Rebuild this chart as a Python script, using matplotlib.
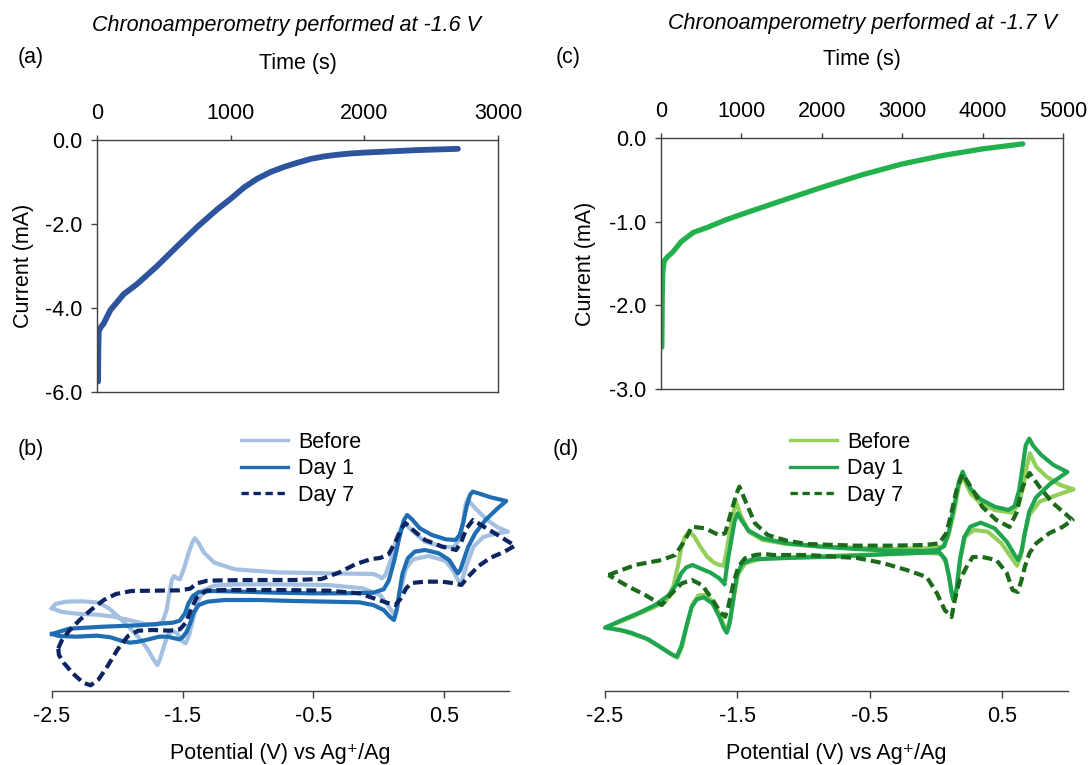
import matplotlib
matplotlib.use("Agg")
import matplotlib.pyplot as plt
from matplotlib.ticker import FormatStrFormatter
from matplotlib.lines import Line2D

plt.rcParams['font.family'] = ['Liberation Sans', 'DejaVu Sans']
plt.rcParams['axes.unicode_minus'] = False

# ---------------- data: chronoamperometry ----------------
a_time = [8, 10, 13, 30, 50, 100, 200, 300, 450, 600, 750, 900, 1000, 1100, 1200,
          1300, 1400, 1500, 1600, 1700, 1800, 1900, 2000, 2200, 2400, 2700]
a_current = [-5.75, -5.0, -4.55, -4.45, -4.37, -4.05, -3.67, -3.43, -3.00, -2.53, -2.07,
             -1.65, -1.40, -1.13, -0.92, -0.76, -0.64, -0.54, -0.45, -0.39, -0.35, -0.32,
             -0.30, -0.27, -0.24, -0.21]

c_time = [10, 15, 22, 40, 80, 150, 250, 400, 600, 800, 1100, 1500, 2000, 2500, 3000,
          3500, 4000, 4500]
c_current = [-2.5, -1.9, -1.6, -1.47, -1.42, -1.36, -1.24, -1.13, -1.06, -0.98, -0.88,
             -0.75, -0.59, -0.44, -0.31, -0.21, -0.13, -0.07]

a_xticks = [0, 1000, 2000, 3000]
a_yticks = [-6.0, -4.0, -2.0, 0.0]
c_xticks = [0, 1000, 2000, 3000, 4000, 5000]
c_yticks = [-3.0, -2.0, -1.0, 0.0]
cv_xticks = [-2.5, -1.5, -0.5, 0.5]
legend_labels = ["Before", "Day 1", "Day 7"]

# ---------------- data: cyclic voltammetry (b), potential V / current arb. ----------------
b_before_E = [-2.500, -2.421, -2.288, -2.156, -2.024, -1.892, -1.786, -1.706, -1.653, -1.622,
              -1.601, -1.582, -1.566, -1.542, -1.521, -1.489, -1.455, -1.423, -1.405, -1.376,
              -1.336, -1.257, -1.098, -0.780, -0.384, -0.040, 0.000, 0.026, 0.053, 0.093,
              0.140, 0.180, 0.204, 0.265, 0.357, 0.489, 0.574, 0.622, 0.648, 0.669,
              0.683, 0.741, 0.833, 0.913, 0.992,
              0.913, 0.807, 0.728, 0.680, 0.648, 0.632, 0.608, 0.569, 0.511, 0.384,
              0.265, 0.212, 0.172, 0.146, 0.124, 0.079, 0.013, -0.119, -0.384, -0.780,
              -1.098, -1.257, -1.336, -1.384, -1.421, -1.450, -1.476, -1.508, -1.542, -1.579,
              -1.614, -1.648, -1.675, -1.693, -1.720, -1.772, -1.852, -1.958, -2.063, -2.143,
              -2.262, -2.394, -2.474, -2.500]
b_before_I = [-0.25, -0.36, -0.42, -0.44, -0.50, -0.62, -0.72, -0.76, -0.65, -0.30,
              0.20, 0.60, 0.72, 0.65, 0.62, 0.95, 1.40, 1.75, 1.85, 1.70,
              1.42, 1.12, 0.92, 0.83, 0.80, 0.78, 0.72, 0.65, 0.75, 1.18,
              1.88, 2.22, 2.30, 2.05, 1.75, 1.60, 1.58, 1.82, 2.35, 2.90,
              3.02, 2.75, 2.40, 2.18, 2.05,
              2.00, 1.90, 1.60, 1.10, 0.70, 0.50, 0.60, 0.90, 1.18, 1.32,
              1.22, 0.95, 0.35, -0.20, -0.45, -0.20, 0.15, 0.35, 0.45, 0.47,
              0.47, 0.43, 0.30, -0.05, -0.60, -1.05, -1.30, -1.22, -1.00, -0.92,
              -1.05, -1.45, -1.80, -1.95, -1.80, -1.45, -1.05, -0.63, -0.25, -0.08,
              -0.04, -0.05, -0.12, -0.25]

b_day1_E = [-2.500, -2.368, -2.103, -1.839, -1.574, -1.521, -1.481, -1.455, -1.421, -1.376,
            -1.283, -1.045, -0.780, -0.516, -0.251, -0.040, 0.040, 0.079, 0.119, 0.159,
            0.193, 0.220, 0.257, 0.317, 0.410, 0.516, 0.590, 0.622, 0.648, 0.675,
            0.701, 0.722, 0.767, 0.860, 0.979,
            0.913, 0.820, 0.741, 0.688, 0.653, 0.627, 0.608, 0.582, 0.542, 0.463,
            0.357, 0.278, 0.225, 0.185, 0.159, 0.140, 0.119, 0.087, 0.040, -0.040,
            -0.146, -0.384, -0.648, -0.913, -1.177, -1.310, -1.376, -1.415, -1.442, -1.468,
            -1.500, -1.526, -1.561, -1.614, -1.680, -1.759, -1.839, -1.905, -1.971, -2.050,
            -2.156, -2.315, -2.447, -2.500]
b_day1_I = [-1.02, -0.86, -0.80, -0.76, -0.68, -0.62, -0.40, -0.10, 0.12, 0.24,
            0.27, 0.25, 0.22, 0.20, 0.20, 0.22, 0.32, 0.58, 1.15, 1.85,
            2.38, 2.55, 2.42, 2.15, 1.95, 1.82, 1.80, 1.95, 2.30, 2.80,
            3.15, 3.25, 3.20, 3.08, 2.97,
            2.75, 2.40, 2.00, 1.60, 1.20, 0.90, 0.80, 0.95, 1.20, 1.40,
            1.50, 1.45, 1.25, 0.80, 0.20, -0.30, -0.60, -0.50, -0.30, -0.15,
            -0.07, -0.05, -0.03, 0.00, 0.00, -0.05, -0.15, -0.38, -0.70, -0.95,
            -1.12, -1.18, -1.15, -1.10, -1.10, -1.18, -1.25, -1.28, -1.22, -1.12,
            -1.07, -1.10, -1.08, -1.02]

b_day7_E = [-2.452, -2.426, -2.368, -2.288, -2.196, -2.103, -2.011, -1.892, -1.706, -1.521,
            -1.442, -1.389, -1.310, -1.045, -0.648, -0.437, -0.304, -0.172, -0.053, 0.013,
            0.079, 0.132, 0.177, 0.206, 0.265, 0.357, 0.489, 0.595, 0.635, 0.675,
            0.725, 0.807, 0.913, 1.045,
            0.966, 0.860, 0.767, 0.688, 0.635, 0.582, 0.489, 0.357, 0.254, 0.212,
            0.172, 0.130, 0.079, 0.003, -0.146, -0.384, -0.780, -1.177, -1.317, -1.394,
            -1.437, -1.474, -1.521, -1.601, -1.733, -1.839, -1.918, -1.997, -2.077, -2.143,
            -2.204, -2.262, -2.341, -2.407, -2.447, -2.452]
b_day7_I = [-1.45, -1.22, -0.92, -0.60, -0.28, 0.00, 0.18, 0.27, 0.28, 0.29,
            0.34, 0.50, 0.58, 0.60, 0.60, 0.63, 0.82, 1.08, 1.23, 1.26,
            1.38, 1.75, 2.15, 2.31, 2.10, 1.80, 1.60, 1.50, 1.75, 2.15,
            2.40, 2.20, 1.95, 1.63,
            1.45, 1.27, 1.02, 0.70, 0.45, 0.50, 0.55, 0.55, 0.51, 0.35,
            0.05, -0.15, -0.10, 0.00, 0.20, 0.28, 0.30, 0.30, 0.28, 0.06,
            -0.30, -0.68, -0.88, -0.92, -0.90, -0.92, -1.08, -1.48, -2.00, -2.38,
            -2.56, -2.48, -2.20, -1.90, -1.65, -1.45]

# ---------------- data: cyclic voltammetry (d) ----------------
d_before_E = [-1.602, -1.636, -1.675, -1.728, -1.780, -1.827, -1.864, -1.898, -1.924, -1.950,
              -1.984, -2.042, -2.147, -2.264, -2.382, -2.492,
              -2.356, -2.199, -2.081, -2.003, -1.953, -1.916, -1.880, -1.838, -1.793, -1.741,
              -1.675, -1.623, -1.584, -1.552, -1.524, -1.492, -1.440, -1.335, -1.126, -0.602,
              -0.079, 0.039, 0.079, 0.105, 0.126, 0.139, 0.162, 0.188, 0.223, 0.288,
              0.393, 0.497, 0.576, 0.615, 0.641, 0.668, 0.707, 0.785, 0.916, 1.042,
              0.942, 0.838, 0.759, 0.712, 0.688, 0.660, 0.628, 0.576, 0.445, 0.340,
              0.267, 0.225, 0.204, 0.173, 0.136, 0.094, 0.052, -0.079, -0.340, -0.864,
              -1.126, -1.309, -1.414, -1.476, -1.510, -1.531, -1.558, -1.584, -1.602]
d_before_I = [1.03, 1.05, 1.12, 1.30, 1.60, 1.92, 2.05, 1.88, 1.55, 1.00,
              0.40, -0.05, -0.25, -0.45, -0.65, -0.82,
              -0.94, -1.14, -1.40, -1.62, -1.73, -1.38, -0.72, -0.12, 0.14, 0.15,
              -0.08, -0.55, -0.95, -0.55, 0.15, 0.80, 1.10, 1.22, 1.28, 1.35,
              1.42, 1.38, 1.10, 0.60, 0.10, 0.00, 0.40, 1.30, 1.90, 2.10,
              2.05, 1.70, 1.25, 1.03, 1.30, 1.90, 2.55, 2.95, 3.15, 3.32,
              3.45, 3.70, 4.00, 4.40, 4.00, 3.38, 2.88, 2.62, 2.70, 2.90,
              3.18, 3.52, 3.75, 3.38, 2.60, 1.90, 1.60, 1.55, 1.53, 1.60,
              1.68, 1.80, 2.05, 2.55, 2.95, 2.60, 2.00, 1.40, 1.07]

d_day1_E = [-1.597, -1.636, -1.702, -1.780, -1.838, -1.885, -1.924, -1.963, -2.016, -2.120,
            -2.251, -2.382, -2.500, -2.382, -2.304, -2.173, -2.068, -1.995, -1.958, -1.924,
            -1.885, -1.846, -1.806, -1.754, -1.688, -1.636, -1.597, -1.579, -1.558, -1.531,
            -1.505, -1.466, -1.387, -1.126, -0.864, -0.602, -0.340, -0.079, 0.026, 0.073,
            0.099, 0.120, 0.134, 0.157, 0.183, 0.215, 0.262, 0.340, 0.445, 0.537,
            0.597, 0.623, 0.649, 0.673, 0.707, 0.759, 0.864, 0.995, 0.890, 0.798,
            0.738, 0.707, 0.681, 0.657, 0.631, 0.597, 0.550, 0.445, 0.340, 0.267,
            0.225, 0.204, 0.175, 0.139, 0.099, 0.065, 0.013, -0.079, -0.340, -0.602,
            -0.864, -1.126, -1.309, -1.414, -1.466, -1.497, -1.521, -1.545, -1.571, -1.589,
            -1.592]
d_day1_I = [0.48, 0.65, 0.82, 0.95, 1.05, 0.98, 0.80, 0.45, 0.15, -0.15,
            -0.40, -0.62, -0.83, -0.90, -0.98, -1.18, -1.45, -1.63, -1.70, -1.40,
            -0.80, -0.22, 0.02, 0.08, -0.10, -0.50, -0.88, -0.98, -0.70, 0.00,
            0.70, 1.08, 1.22, 1.26, 1.29, 1.33, 1.38, 1.42, 1.44, 1.22,
            0.75, 0.22, 0.00, 0.32, 1.20, 1.88, 2.20, 2.32, 2.15, 1.75,
            1.35, 1.20, 1.45, 2.00, 2.65, 3.08, 3.48, 3.84, 4.05, 4.35,
            4.62, 4.84, 4.65, 4.00, 3.30, 2.82, 2.70, 2.80, 3.02, 3.32,
            3.62, 3.85, 3.55, 2.80, 2.05, 1.62, 1.50, 1.47, 1.48, 1.53,
            1.60, 1.70, 1.85, 2.08, 2.38, 2.60, 2.35, 1.80, 1.20, 0.70,
            0.60]

d_day7_E = [-2.474, -2.272, -2.071, -1.969, -1.895, -1.843, -1.743, -1.641, -1.592, -1.542,
            -1.505, -1.484, -1.442, -1.366, -1.270, -1.126, -0.974, -0.602, -0.340, -0.079,
            0.026, 0.079, 0.118, 0.157, 0.204, 0.280, 0.353, 0.458, 0.558, 0.610,
            0.657, 0.709, 0.785, 0.885, 1.034,
            0.958, 0.861, 0.762, 0.709, 0.673, 0.649, 0.620, 0.581, 0.537, 0.458,
            0.353, 0.280, 0.233, 0.181, 0.144, 0.120, 0.068, 0.008, -0.068, -0.220,
            -0.401, -0.597, -0.974, -1.230, -1.291, -1.366, -1.442, -1.492, -1.529, -1.568,
            -1.592, -1.631, -1.694, -1.767, -1.843, -1.919, -1.995, -2.071, -2.196, -2.322,
            -2.474]
d_day7_I = [0.75, 1.05, 1.20, 1.35, 1.80, 2.20, 2.15, 1.95, 2.00, 2.70,
            3.20, 3.40, 3.00, 2.30, 1.95, 1.78, 1.68, 1.63, 1.63, 1.65,
            1.70, 2.00, 2.60, 3.30, 3.78, 3.30, 2.79, 2.40, 2.19, 2.61,
            3.39, 3.81, 3.39, 2.91, 2.40,
            2.19, 2.01, 1.71, 1.41, 0.99, 0.60, 0.24, 0.30, 0.81, 1.20,
            1.29, 1.29, 0.99, 0.60, 0.00, -0.51, -0.30, 0.21, 0.69, 0.90,
            1.11, 1.26, 1.35, 1.35, 1.38, 1.35, 1.25, 1.00, 0.50, -0.20,
            -0.50, -0.35, 0.05, 0.45, 0.60, 0.50, 0.20, -0.15, 0.15, 0.40,
            0.75]

# ---------------- styling ----------------
W, H = 1088, 765
FS = 15.5
SPINE = '#404040'
COL_A = '#2e549e'
COL_C = '#22b14c'
B_COLS = ['#a4c0e0', '#1f6db3', '#0c2461']
D_COLS = ['#94cf5c', '#1fa550', '#1b6b1b']
LW_CV = 3.0
DASH = (2.4, 1.2)

fig = plt.figure(figsize=(W / 100, H / 100), dpi=100)


def rect(x0, x1, y0, y1):
    return [x0 / W, 1 - y1 / H, (x1 - x0) / W, (y1 - y0) / H]


def ca_axes(r, xmax, ymin, xticks, yticks, hpx, xlab_px):
    ax = fig.add_axes(r)
    ax.set_xlim(0, xmax)
    ax.set_ylim(ymin, 0)
    for s in ax.spines.values():
        s.set_color(SPINE)
        s.set_linewidth(1.0)
    ax.xaxis.tick_top()
    ax.xaxis.set_label_position('top')
    ax.set_xticks(xticks)
    ax.set_yticks(yticks)
    ax.yaxis.set_major_formatter(FormatStrFormatter('%.1f'))
    ax.tick_params(axis='x', direction='out', length=3.6, width=1, color=SPINE, pad=8,
                   labelsize=FS)
    ax.tick_params(axis='y', direction='out', length=4.3, width=1, color=SPINE, pad=6,
                   labelsize=FS, right=False)
    ax.set_xlabel('Time (s)', fontsize=FS)
    ax.xaxis.set_label_coords(0.5, 1 + xlab_px / hpx)
    ax.xaxis.label.set_va('center')
    ax.set_ylabel('Current (mA)', fontsize=FS)
    ax.yaxis.label.set_va('center')
    return ax


def cv_axes(r):
    ax = fig.add_axes(r)
    ax.set_xlim(-2.5, 1.0)
    ax.set_ylim(-2.73, 5.25)
    for k in ['left', 'right', 'top']:
        ax.spines[k].set_visible(False)
    ax.spines['bottom'].set_color(SPINE)
    ax.spines['bottom'].set_linewidth(1.0)
    ax.set_yticks([])
    ax.set_xticks(cv_xticks)
    ax.xaxis.set_major_formatter(FormatStrFormatter('%.1f'))
    ax.tick_params(axis='x', direction='out', length=5, width=1, color=SPINE, pad=6,
                   labelsize=FS)
    ax.patch.set_alpha(0)
    ax.set_xlabel('Potential (V) vs Ag\u207a/Ag', fontsize=FS)
    ax.xaxis.set_label_coords(0.5, -62 / 266)
    ax.xaxis.label.set_va('center')
    return ax


# (a)
ax_a = ca_axes(rect(97, 498, 140, 392), 3000, -6.0, a_xticks, a_yticks, 252, 77)
ax_a.yaxis.set_label_coords((24 - 97) / 401, 0.5)
ax_a.plot(a_time, a_current, color=COL_A, lw=4.2, solid_capstyle='round', solid_joinstyle='round')

# (c)
ax_c = ca_axes(rect(661, 1063, 138, 389), 5000, -3.0, c_xticks, c_yticks, 251, 78)
ax_c.yaxis.set_label_coords((585 - 661) / 402, 0.5)
ax_c.plot(c_time, c_current, color=COL_C, lw=3.8, solid_capstyle='round', solid_joinstyle='round')

# (b)
ax_b = cv_axes(rect(52, 509, 425, 691))
for E, I, col, ls, z in [(b_before_E, b_before_I, B_COLS[0], '-', 2),
                         (b_day1_E, b_day1_I, B_COLS[1], '-', 3),
                         (b_day7_E, b_day7_I, B_COLS[2], '--', 4)]:
    ln, = ax_b.plot(E, I, color=col, lw=LW_CV, ls=ls, zorder=z, clip_on=False,
                    solid_joinstyle='round', dash_capstyle='butt')
    if ls == '--':
        ln.set_dashes(DASH)

# (d)
ax_d = cv_axes(rect(605, 1068, 425, 691))
for E, I, col, ls, z in [(d_before_E, d_before_I, D_COLS[0], '-', 2),
                         (d_day1_E, d_day1_I, D_COLS[1], '-', 3),
                         (d_day7_E, d_day7_I, D_COLS[2], '--', 4)]:
    ln, = ax_d.plot(E, I, color=col, lw=LW_CV, ls=ls, zorder=z, clip_on=False,
                    solid_joinstyle='round', dash_capstyle='butt')
    if ls == '--':
        ln.set_dashes(DASH)


def add_legend(ax, cols, x, y):
    handles = []
    for col, ls in zip(cols, ['-', '-', '--']):
        h = Line2D([], [], color=col, lw=LW_CV * 0.8, ls=ls)
        if ls == '--':
            h.set_dashes((2.2, 1.4))
        handles.append(h)
    ax.legend(handles, legend_labels, loc='upper left', bbox_to_anchor=(x / W, 1 - y / H),
              bbox_transform=fig.transFigure, frameon=False, fontsize=FS,
              handlelength=2.2, handletextpad=0.45, labelspacing=0.25,
              borderpad=0, borderaxespad=0)


add_legend(ax_b, B_COLS, 241, 432)
add_legend(ax_d, D_COLS, 790, 432)

# titles and panel labels
fig.text(287 / W, 1 - 25 / H, 'Chronoamperometry performed at -1.6 V', style='italic',
         fontsize=FS, ha='center', va='center')
fig.text(863 / W, 1 - 23 / H, 'Chronoamperometry performed at -1.7 V', style='italic',
         fontsize=FS, ha='center', va='center')
for lab, x, y in [('(a)', 31, 58), ('(c)', 568, 58), ('(b)', 31, 450), ('(d)', 566, 450)]:
    fig.text(x / W, 1 - y / H, lab, fontsize=FS, ha='center', va='center')

fig.savefig('out.png', dpi=100)
